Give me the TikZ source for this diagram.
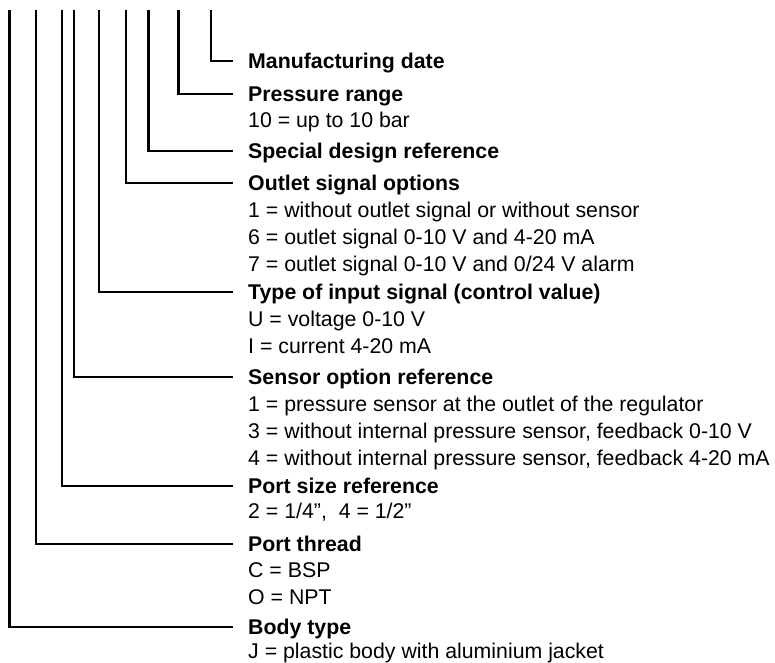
\documentclass[tikz,border=0pt]{standalone}
\usepackage{fontspec}
\setmainfont{Liberation Sans}
\begin{document}
\begin{tikzpicture}[x=1pt,y=-1pt,
  txt/.style={anchor=west,inner sep=0pt,text height=15pt,text depth=0pt,font=\fontsize{21.3}{25}\selectfont},
  head/.style={txt,font=\fontsize{21.3}{25}\selectfont\bfseries},
  lead/.style={line width=2.2pt,line cap=butt}]
\useasboundingbox[fill=white] (0,0) rectangle (775,662);
% headings
\node[head] (mfg) at (248,61) {Manufacturing date};
\node[head] (pr) at (248,94) {Pressure range};
\node[txt] (pr1) at (248,120) {10 = up to 10 bar};
\node[head] (sd) at (248,151) {Special design reference};
\node[head] (os) at (248,183) {Outlet signal options};
\node[txt] (os1) at (248,210) {1 = without outlet signal or without sensor};
\node[txt] (os2) at (248,237) {6 = outlet signal 0-10 V and 4-20 mA};
\node[txt] (os3) at (248,264) {7 = outlet signal 0-10 V and 0/24 V alarm};
\node[head] (ti) at (248,292) {Type of input signal (control value)};
\node[txt] (ti1) at (248,319) {U = voltage 0-10 V};
\node[txt] (ti2) at (248,346) {I = current 4-20 mA};
\node[head] (so) at (248,377) {Sensor option reference};
\node[txt] (so1) at (248,404) {1 = pressure sensor at the outlet of the regulator};
\node[txt] (so2) at (248,431) {3 = without internal pressure sensor, feedback 0-10 V};
\node[txt] (so3) at (248,458) {4 = without internal pressure sensor, feedback 4-20 mA};
\node[head] (ps) at (248,486) {Port size reference};
\node[txt] (ps1) at (248,511) {2 = 1/4'',\ \ 4 = 1/2''};
\node[head] (pt) at (248,544) {Port thread};
\node[txt] (pt1) at (248,570) {C = BSP};
\node[txt] (pt2) at (248,597) {O = NPT};
\node[head] (bt) at (248,627) {Body type};
\node[txt] (bt1) at (248,651) {J = plastic body with aluminium jacket};
% tops of the leads
\coordinate (t1) at (211,10);
\coordinate (t2) at (178.5,10);
\coordinate (t3) at (148.5,10);
\coordinate (t4) at (126,10);
\coordinate (t5) at (99,10);
\coordinate (t6) at (74,10);
\coordinate (t7) at (62,10);
\coordinate (t8) at (36,10);
\coordinate (t9) at (9.5,10);
\draw[lead] (t1) |- ([xshift=-15pt]mfg.west);
\draw[lead] (t2) |- ([xshift=-15pt]pr.west);
\draw[lead] (t3) |- ([xshift=-15pt]sd.west);
\draw[lead] (t4) |- ([xshift=-15pt]os.west);
\draw[lead] (t5) |- ([xshift=-15pt]ti.west);
\draw[lead] (t6) |- ([xshift=-15pt]so.west);
\draw[lead] (t7) |- ([xshift=-15pt]ps.west);
\draw[lead] (t8) |- ([xshift=-15pt]pt.west);
\draw[lead] (t9) |- ([xshift=-15pt]bt.west);
\end{tikzpicture}
\end{document}
